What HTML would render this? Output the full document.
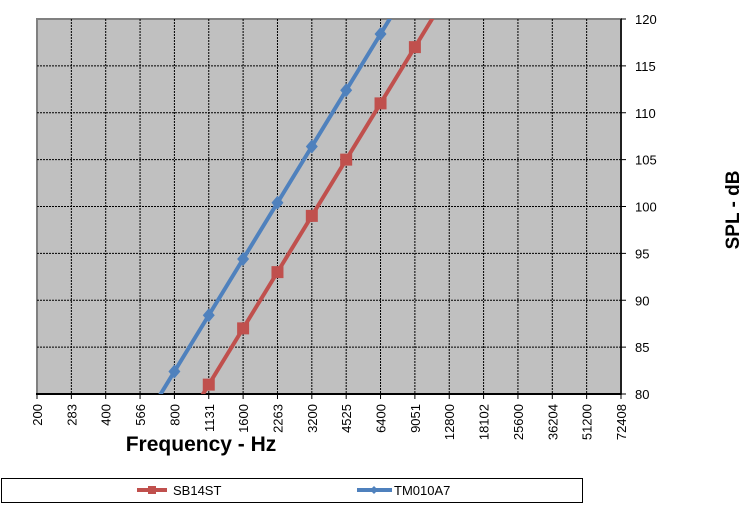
<!DOCTYPE html>
<html><head><meta charset="utf-8"><style>
body{margin:0;background:#fff;}
svg text{font-family:"Liberation Sans",Arial,sans-serif;}
</style></head><body>
<svg id="chart" width="751" height="509" xmlns="http://www.w3.org/2000/svg">
<defs><clipPath id="pc"><rect x="37" y="19" width="584" height="375"/></clipPath></defs>
<rect x="37" y="19" width="584" height="375" fill="#c0c0c0" stroke="#808080" stroke-width="2"/>
<g id="grid"></g>
<g id="axes"></g>
<g id="series" clip-path="url(#pc)"></g>
<g id="markers"></g>
<text x="201" y="451" font-size="21" font-weight="bold" text-anchor="middle">Frequency - Hz</text>
<text transform="translate(739,210) rotate(-90)" font-size="19" font-weight="bold" text-anchor="middle">SPL - dB</text>
<g>
<rect x="1.5" y="478.5" width="581" height="24" fill="#fff" stroke="#000" stroke-width="1"/>
<g>
<line x1="137" y1="490" x2="167" y2="490" stroke="#c0504d" stroke-width="4"/>
<rect x="148" y="486" width="8" height="8" fill="#c0504d"/>
<text x="173" y="495" font-size="13">SB14ST</text></g>
<g>
<line x1="357" y1="490" x2="392" y2="490" stroke="#4f81bd" stroke-width="4"/>
<path d="M374 486 L378 490 L374 494 L370 490Z" fill="#4f81bd"/>
<text x="394" y="495" font-size="13">TM010A7</text></g>
</g>
</svg>
<script>
const categories=["200","283","400","566","800","1131","1600","2263","3200","4525","6400","9051","12800","18102","25600","36204","51200","72408"];
const yTicks=[80,85,90,95,100,105,110,115,120];
const sb14stValues=[null,null,null,null,75,81,87,93,99,105,111,117,123,null,null,null,null,null];
const tm010a7Values=[null,null,null,76.4,82.4,88.4,94.4,100.4,106.4,112.4,118.4,124.4,null,null,null,null,null,null];
const X0=37,X1=621,Y0=394,Y1=19,YMIN=80,YMAX=120;
const xs=i=>X0+(X1-X0)*i/(categories.length-1);
const ys=v=>Y0-(v-YMIN)/(YMAX-YMIN)*(Y0-Y1);
const NS="http://www.w3.org/2000/svg";
function mk(t,a,p){const e=document.createElementNS(NS,t);for(const k in a)e.setAttribute(k,a[k]);p.appendChild(e);return e;}
const grid=document.getElementById('grid'),axes=document.getElementById('axes');
categories.forEach((c,i)=>{
 const x=xs(i);
 if(i>0&&i<categories.length-1){const l=mk('line',{x1:x,y1:Y1,x2:x,y2:Y0,stroke:'#000','stroke-width':1,'stroke-dasharray':'2,1'},grid);
 
 }
 mk('line',{x1:x,y1:Y0,x2:x,y2:Y0+5,stroke:'#000'},axes);
 const t=mk('text',{transform:`translate(${x+5},${Y0+10}) rotate(-90)`,'font-size':13,'text-anchor':'end'},axes);
 t.textContent=c;
 
 
});
yTicks.forEach(v=>{
 const y=ys(v);
 if(v>YMIN&&v<YMAX){const l=mk('line',{x1:X0,y1:y,x2:X1,y2:y,stroke:'#000','stroke-width':1,'stroke-dasharray':'2,1'},grid);
 
 }
 mk('line',{x1:X1,y1:y,x2:X1+5,y2:y,stroke:'#000'},axes);
 const t=mk('text',{x:X1+14,y:y+5,'font-size':13},axes);
 t.textContent=v;
 
 
});
mk('line',{x1:X0-1,y1:Y0,x2:X1,y2:Y0,stroke:'#000','stroke-width':2},axes);
mk('line',{x1:X1,y1:Y1,x2:X1,y2:Y0,stroke:'#000','stroke-width':1.5},axes);
const ser=document.getElementById('series'),mks=document.getElementById('markers');
function draw(vals,color,shape,name){
 const pts=[];vals.forEach((v,i)=>{if(v!==null)pts.push([xs(i),ys(v)]);});
 const p=mk('polyline',{points:pts.map(q=>q.join(',')).join(' '),fill:'none',stroke:color,'stroke-width':4,'stroke-linejoin':'round'},ser);
 
 
 vals.forEach((v,i)=>{
  if(v===null||v<YMIN||v>YMAX)return;
  const x=xs(i),y=ys(v);let m;
  if(shape==='sq')m=mk('rect',{x:x-6,y:y-6,width:12,height:12,fill:color},mks);
  else m=mk('path',{d:`M${x} ${y-7} L${x+6} ${y} L${x} ${y+7} L${x-6} ${y}Z`,fill:color},mks);
  
  
 });
}
draw(sb14stValues,'#c0504d','sq','sb14st');
draw(tm010a7Values,'#4f81bd','dia','tm010a7');
</script>
</body></html>
